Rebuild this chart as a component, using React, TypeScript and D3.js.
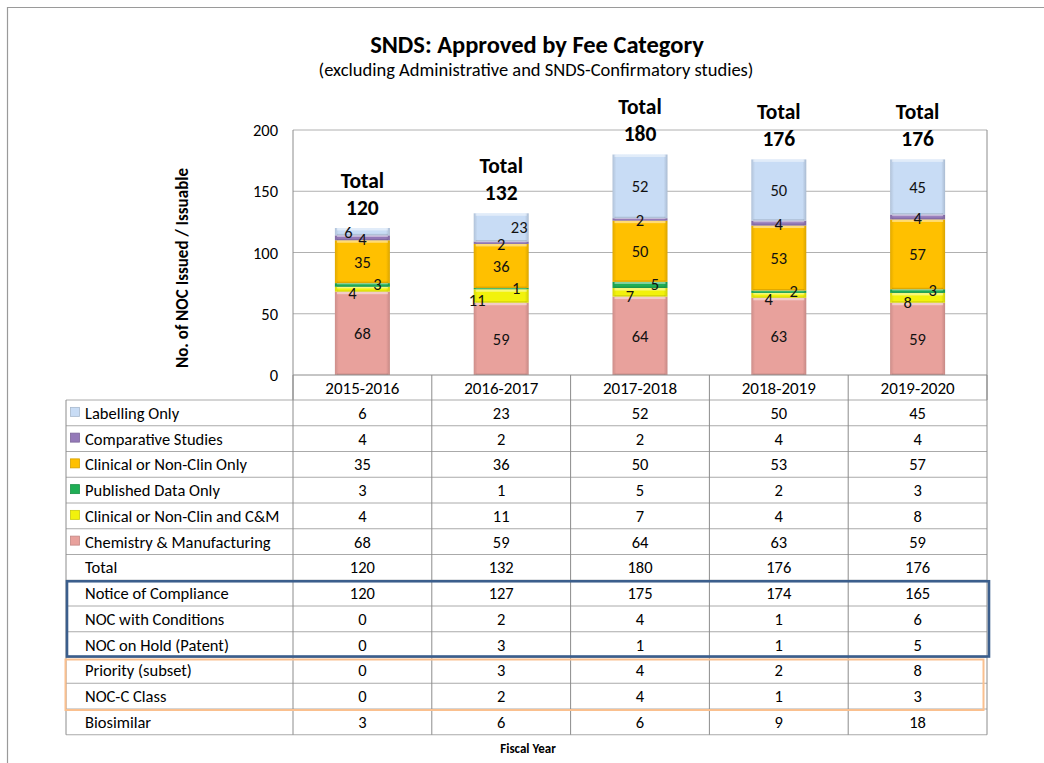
import { useEffect, useRef } from "react";
import * as d3 from "d3";

// fiscal years and stacked series (bottom to top)
const years = ["2015-2016", "2016-2017", "2017-2018", "2018-2019", "2019-2020"];
const chemistry = [68, 59, 64, 63, 59];
const clinicalCM = [4, 11, 7, 4, 8];
const published = [3, 1, 5, 2, 3];
const clinicalOnly = [35, 36, 50, 53, 57];
const comparative = [4, 2, 2, 4, 4];
const labelling = [6, 23, 52, 50, 45];
const totals = [120, 132, 180, 176, 176];

// extra table rows
const noc = [120, 127, 175, 174, 165];
const nocConditions = [0, 2, 4, 1, 6];
const nocHold = [0, 3, 1, 1, 5];
const priority = [0, 3, 4, 2, 8];
const nocC = [0, 2, 4, 1, 3];
const biosimilar = [3, 6, 6, 9, 18];

const yTicks = [0, 50, 100, 150, 200];

const series = [
    { key: "chem", name: "Chemistry & Manufacturing", values: chemistry, color: "#e8a19c" },
    { key: "cm", name: "Clinical or Non-Clin and C&M", values: clinicalCM, color: "#f2f20c" },
    { key: "pub", name: "Published Data Only", values: published, color: "#1fae55" },
    { key: "clin", name: "Clinical or Non-Clin Only", values: clinicalOnly, color: "#ffc000" },
    { key: "comp", name: "Comparative Studies", values: comparative, color: "#9479b8" },
    { key: "lab", name: "Labelling Only", values: labelling, color: "#c8dcf5" },
];

const font = "Carlito, Lato, 'Liberation Sans', sans-serif";
const fs = 16.5; // body text size (≈ 12pt Calibri)

function App() {
    const svgRef = useRef(null);

    useEffect(() => {
        const svg = d3.select(svgRef.current);
        svg.selectAll("*").remove();

        const left = 293, right = 987, top = 130, base = 375;
        const tableLeft = 66, tableTop = 400, tableBottom = 734.75;

        const x = d3.scaleBand().domain(years).range([left, right]).padding(0);
        const y = d3.scaleLinear().domain([0, 200]).range([base, top]);
        const barW = 55;

        // gradients for the bevel look
        const defs = svg.append("defs");
        series.forEach((s) => {
            const c = d3.color(s.color);
            const g = defs.append("linearGradient").attr("id", "g-" + s.key)
                .attr("x1", 0).attr("x2", 1).attr("y1", 0).attr("y2", 0);
            g.append("stop").attr("offset", "0%").attr("stop-color", c.darker(0.35).formatHex());
            g.append("stop").attr("offset", "7%").attr("stop-color", s.color);
            g.append("stop").attr("offset", "93%").attr("stop-color", s.color);
            g.append("stop").attr("offset", "100%").attr("stop-color", c.darker(0.45).formatHex());
        });

        // outer frame
        svg.append("path").attr("d", "M7.5,763 V7.5 H1044")
            .attr("fill", "none").attr("stroke", "#9a9a9a").attr("stroke-width", 1.2);

        // titles
        svg.append("text").attr("x", 537).attr("y", 52.5).attr("text-anchor", "middle")
            .attr("font-size", 24.5).attr("font-weight", "bold").text("SNDS: Approved by Fee Category");
        svg.append("text").attr("x", 536).attr("y", 75.5).attr("text-anchor", "middle")
            .attr("font-size", 18.5).text("(excluding Administrative and SNDS-Confirmatory studies)");

        // grid lines
        svg.append("g").selectAll("line").data(yTicks.slice(1)).enter().append("line")
            .attr("x1", left).attr("x2", right)
            .attr("y1", (d) => y(d)).attr("y2", (d) => y(d))
            .attr("stroke", "#b0b0b0").attr("stroke-width", 1);

        // plot frame sides
        svg.append("line").attr("x1", left).attr("x2", left).attr("y1", top).attr("y2", tableTop)
            .attr("stroke", "#8c8c8c");
        svg.append("line").attr("x1", right).attr("x2", right).attr("y1", top).attr("y2", tableTop)
            .attr("stroke", "#8c8c8c");

        // y tick labels
        svg.append("g").selectAll("text").data(yTicks).enter().append("text")
            .attr("x", 278).attr("y", (d) => y(d) + 6).attr("text-anchor", "end")
            .attr("font-size", fs).text((d) => d);

        svg.append("text")
            .attr("transform", "translate(188,268) rotate(-90)")
            .attr("text-anchor", "middle").attr("font-size", 17).attr("font-weight", "bold")
            .text("No. of NOC Issued / Issuable");

        // stacked bars
        const rows = years.map((yr, i) => {
            const r = { year: yr };
            series.forEach((s) => (r[s.key] = s.values[i]));
            return r;
        });
        const stacked = d3.stack().keys(series.map((s) => s.key))(rows);

        stacked.forEach((layer, li) => {
            const s = series[li];
            const g = svg.append("g");
            const segs = g.selectAll("g").data(layer).enter().append("g");
            segs.append("rect")
                .attr("x", (d) => x(d.data.year) + x.bandwidth() / 2 - barW / 2)
                .attr("y", (d) => y(d[1]))
                .attr("width", barW)
                .attr("height", (d) => y(d[0]) - y(d[1]))
                .attr("fill", "url(#g-" + s.key + ")");
            segs.append("rect")
                .attr("x", (d) => x(d.data.year) + x.bandwidth() / 2 - barW / 2 + 2)
                .attr("y", (d) => y(d[1]))
                .attr("width", barW - 4)
                .attr("height", (d) => Math.min(2.5, (y(d[0]) - y(d[1])) / 3))
                .attr("fill", "#ffffff").attr("opacity", 0.45);
            segs.append("rect")
                .attr("x", (d) => x(d.data.year) + x.bandwidth() / 2 - barW / 2 + 2)
                .attr("y", (d) => y(d[0]) - Math.min(1.5, (y(d[0]) - y(d[1])) / 4))
                .attr("width", barW - 4)
                .attr("height", (d) => Math.min(1.5, (y(d[0]) - y(d[1])) / 4))
                .attr("fill", "#000000").attr("opacity", 0.12);
        });

        // segment labels (small ones nudged aside like Excel)
        stacked.forEach((layer, li) => {
            const s = series[li];
            svg.append("g").selectAll("text").data(layer).enter().append("text")
                .attr("x", (d) => {
                    const cx = x(d.data.year) + x.bandwidth() / 2;
                    const v = d[1] - d[0];
                    if (s.key === "pub") return cx + 15;
                    if (s.key === "cm") return cx - (v > 9 ? 24 : 10);
                    if (s.key === "lab" && v < 10) return cx - 14;
                    if (s.key === "lab" && v < 30) return cx + 18;
                    return cx;
                })
                .attr("y", (d) => {
                    const mid = (y(d[0]) + y(d[1])) / 2;
                    const v = d[1] - d[0];
                    if (s.key === "cm") return mid + 10;
                    if (s.key === "pub") return mid + 5;
                    if (v < 6) return mid + 7;
                    return mid + 6;
                })
                .attr("text-anchor", "middle").attr("font-size", fs).attr("fill", "#111")
                .text((d) => d[1] - d[0]);
        });

        // totals above bars
        const tot = svg.append("g").selectAll("g").data(years).enter().append("g");
        tot.append("text")
            .attr("x", (d) => x(d) + x.bandwidth() / 2)
            .attr("y", (d, i) => y(totals[i]) - 40.5)
            .attr("text-anchor", "middle").attr("font-size", 21.5).attr("font-weight", "bold")
            .text("Total");
        tot.append("text")
            .attr("x", (d) => x(d) + x.bandwidth() / 2)
            .attr("y", (d, i) => y(totals[i]) - 13.5)
            .attr("text-anchor", "middle").attr("font-size", 21.5).attr("font-weight", "bold")
            .text((d, i) => totals[i]);

        // ---------------- data table ----------------
        const tableRows = [
            { label: "Labelling Only", values: labelling, color: "#c8dcf5" },
            { label: "Comparative Studies", values: comparative, color: "#9479b8" },
            { label: "Clinical or Non-Clin Only", values: clinicalOnly, color: "#ffc000" },
            { label: "Published Data Only", values: published, color: "#1fae55" },
            { label: "Clinical or Non-Clin and C&M", values: clinicalCM, color: "#f2f20c" },
            { label: "Chemistry & Manufacturing", values: chemistry, color: "#e8a19c" },
            { label: "Total", values: totals },
            { label: "Notice of Compliance", values: noc },
            { label: "NOC with Conditions", values: nocConditions },
            { label: "NOC on Hold (Patent)", values: nocHold },
            { label: "Priority (subset)", values: priority },
            { label: "NOC-C Class", values: nocC },
            { label: "Biosimilar", values: biosimilar },
        ];
        const ry = d3.scaleBand().domain(tableRows.map((r) => r.label))
            .range([tableTop, tableBottom]).padding(0);
        const rh = ry.bandwidth();

        const tg = svg.append("g");
        // header row (years)
        tg.append("line").attr("x1", left).attr("x2", right).attr("y1", base).attr("y2", base)
            .attr("stroke", "#8c8c8c");
        tg.selectAll(".yr").data(years).enter().append("text")
            .attr("x", (d) => x(d) + x.bandwidth() / 2).attr("y", base + 19)
            .attr("text-anchor", "middle").attr("font-size", 17).text((d) => d);

        // horizontal lines
        const hLines = tableRows.map((r) => ry(r.label)).concat([tableBottom]);
        tg.selectAll(".hl").data(hLines).enter().append("line")
            .attr("x1", tableLeft).attr("x2", right)
            .attr("y1", (d) => d).attr("y2", (d) => d)
            .attr("stroke", "#aaaaaa");
        // vertical lines
        const vLines = years.map((yr) => x(yr)).concat([right]);
        tg.selectAll(".vl").data(vLines).enter().append("line")
            .attr("x1", (d) => d).attr("x2", (d) => d)
            .attr("y1", base).attr("y2", tableBottom)
            .attr("stroke", "#8c8c8c");
        tg.append("line").attr("x1", tableLeft).attr("x2", tableLeft)
            .attr("y1", tableTop).attr("y2", tableBottom).attr("stroke", "#8c8c8c");

        const tr = tg.selectAll(".row").data(tableRows).enter().append("g");
        tr.filter((d) => !!d.color).append("rect")
            .attr("x", 70.5).attr("y", (d) => ry(d.label) + rh / 2 - 5.5)
            .attr("width", 9).attr("height", 9)
            .attr("fill", (d) => d.color)
            .attr("stroke", (d) => d3.color(d.color).darker(0.5).formatHex())
            .attr("stroke-width", 0.8);
        tr.append("text")
            .attr("x", 85).attr("y", (d) => ry(d.label) + rh / 2 + 6)
            .attr("font-size", fs).text((d) => d.label);
        tr.each(function (row) {
            d3.select(this).selectAll("text.v").data(row.values).enter().append("text")
                .attr("class", "v")
                .attr("x", (d, i) => x(years[i]) + x.bandwidth() / 2)
                .attr("y", ry(row.label) + rh / 2 + 6)
                .attr("text-anchor", "middle").attr("font-size", fs)
                .text((d) => d);
        });

        // highlight boxes
        const blueTop = ry("Notice of Compliance");
        const blueBottom = ry("NOC on Hold (Patent)") + rh;
        tg.append("rect").attr("x", 67).attr("y", blueTop + 1)
            .attr("width", 922).attr("height", blueBottom - blueTop - 2)
            .attr("fill", "none").attr("stroke", "#3b5e8c").attr("stroke-width", 2.6);
        const orTop = ry("Priority (subset)");
        const orBottom = ry("NOC-C Class") + rh;
        tg.append("rect").attr("x", 65.5).attr("y", orTop + 2)
            .attr("width", 918).attr("height", orBottom - orTop - 1)
            .attr("fill", "none").attr("stroke", "#fac08f").attr("stroke-width", 2);

        svg.append("text").attr("x", 528).attr("y", 752.5).attr("text-anchor", "middle")
            .attr("font-size", 13).attr("font-weight", "bold").text("Fiscal Year");
    }, []);

    return (
        <svg
            ref={svgRef}
            width={1044}
            height={763}
            style={{ position: "absolute", left: 0, top: 0, background: "#fff", fontFamily: font }}
        ></svg>
    );
}

export default App;
